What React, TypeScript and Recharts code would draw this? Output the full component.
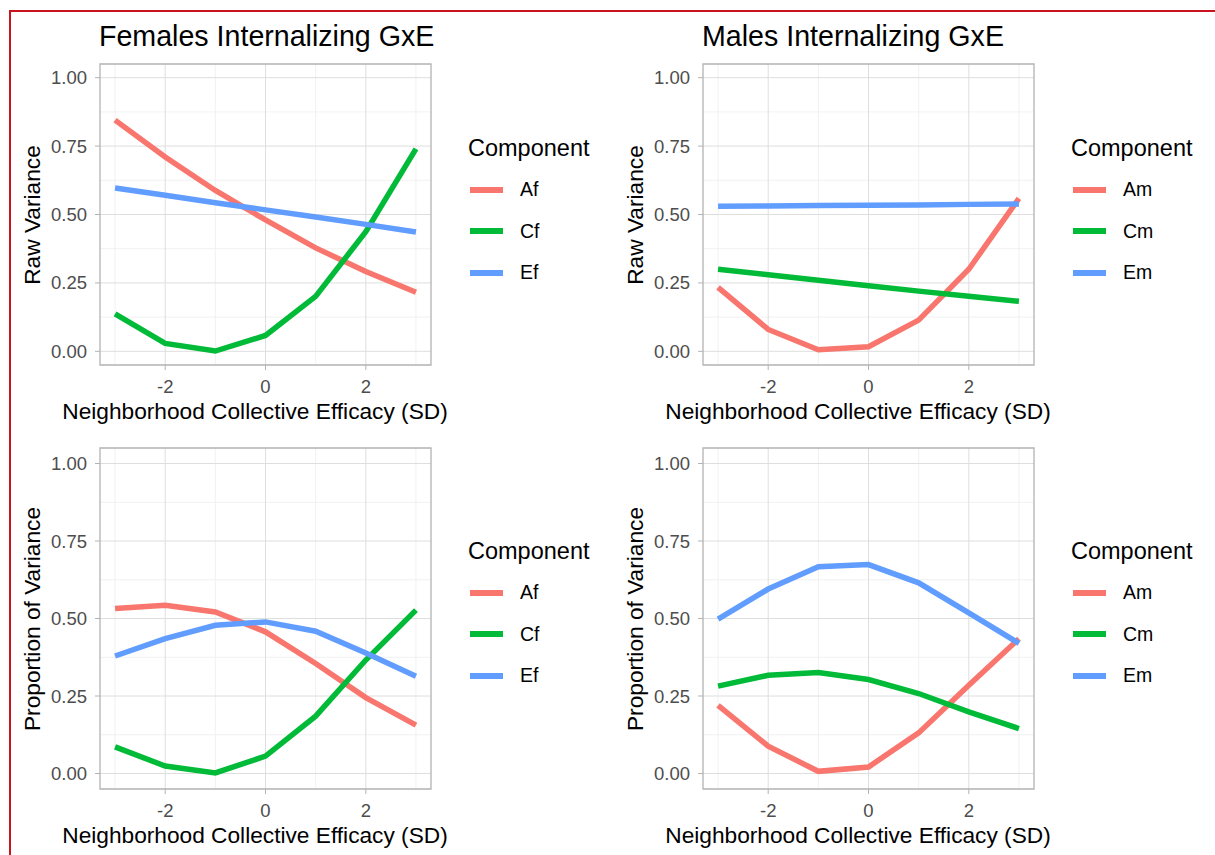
import { LineChart, Line, XAxis, YAxis, CartesianGrid, Legend, ReferenceArea } from 'recharts'

const xs = [-3, -2, -1, 0, 1, 2, 3]

// raw variance
const femRawA = [0.845, 0.71, 0.588, 0.48, 0.378, 0.292, 0.216]
const femRawC = [0.137, 0.029, 0.001, 0.058, 0.201, 0.437, 0.74]
const femRawE = [0.597, 0.57, 0.543, 0.517, 0.491, 0.464, 0.436]
const maleRawA = [0.234, 0.08, 0.006, 0.017, 0.114, 0.3, 0.559]
const maleRawC = [0.3, 0.28, 0.26, 0.24, 0.22, 0.201, 0.183]
const maleRawE = [0.53, 0.531, 0.533, 0.534, 0.535, 0.537, 0.538]

// proportion of variance
const femPropA = [0.532, 0.543, 0.521, 0.457, 0.355, 0.245, 0.156]
const femPropC = [0.086, 0.024, 0.002, 0.056, 0.185, 0.366, 0.527]
const femPropE = [0.379, 0.435, 0.478, 0.489, 0.459, 0.389, 0.314]
const malePropA = [0.22, 0.088, 0.007, 0.021, 0.131, 0.285, 0.435]
const malePropC = [0.282, 0.317, 0.326, 0.303, 0.258, 0.199, 0.145]
const malePropE = [0.498, 0.595, 0.667, 0.674, 0.615, 0.518, 0.42]

const femNames = ['Af', 'Cf', 'Ef']
const maleNames = ['Am', 'Cm', 'Em']

const majorX = [-2, 0, 2]
const minorX = [-3, -1, 1, 3]
const yTicks = [0, 0.25, 0.5, 0.75, 1]
const minorY = [0.125, 0.375, 0.625, 0.875]

const colors = ['#F8766D', '#00BA38', '#619CFF']
const font = '"Liberation Sans", Arial, sans-serif'

const buildRows = (a: number[], c: number[], e: number[]) =>
  xs.map((x, i) => ({ x, a: a[i], c: c[i], e: e[i] }))

const renderLegend = (props: any) => (
  <div style={{ fontFamily: font, color: '#000' }}>
    <div style={{ fontSize: 23.5, lineHeight: '28px', whiteSpace: 'nowrap' }}>Component</div>
    <div style={{ marginTop: 7 }}>
      {(props.payload || []).map((entry: any) => (
        <div key={entry.value} style={{ display: 'flex', alignItems: 'center', height: 41.5 }}>
          <span style={{ display: 'inline-block', width: 33, height: 6, marginLeft: 2, background: entry.color }} />
          <span style={{ marginLeft: 17, fontSize: 19.5 }}>{entry.value}</span>
        </div>
      ))}
    </div>
  </div>
)

function Panel({ left, top, height, title, yTitle, rows, names, legendTop }: any) {
  const width = 600
  const plotBottom = height - 65
  return (
    <div style={{ position: 'absolute', left, top, width, height }}>
      <LineChart width={width} height={height} data={rows} margin={{ top: 64, right: 169, bottom: 0, left: 0 }}>
        <CartesianGrid stroke="#EDEDED" strokeWidth={0.8} verticalValues={minorX} horizontalValues={minorY} />
        <CartesianGrid stroke="#DEDEDE" strokeWidth={1} verticalValues={majorX} horizontalValues={yTicks} />
        <ReferenceArea x1={-3.3} x2={3.3} y1={-0.05} y2={1.05} fill="none" fillOpacity={0} stroke="#B3B3B3" strokeWidth={1.3} />
        <XAxis
          dataKey="x"
          type="number"
          domain={[-3.3, 3.3]}
          ticks={majorX}
          interval={0}
          height={65}
          tickSize={5}
          tickMargin={10}
          axisLine={false}
          tickLine={{ stroke: '#B3B3B3' }}
          tick={{ fill: '#4D4D4D', fontSize: 18.5, fontFamily: font }}
          allowDataOverflow
        />
        <YAxis
          type="number"
          domain={[-0.05, 1.05]}
          ticks={yTicks}
          interval={0}
          width={100}
          tickSize={5}
          tickMargin={8}
          axisLine={false}
          tickLine={{ stroke: '#B3B3B3' }}
          tick={{ fill: '#4D4D4D', fontSize: 18.5, fontFamily: font }}
          tickFormatter={(v: number) => v.toFixed(2)}
          allowDataOverflow
        />
        <Legend
          layout="horizontal"
          align="center"
          verticalAlign="middle"
          content={renderLegend}
          wrapperStyle={{ left: 468, top: legendTop, width: 130, height: 160 }}
        />
        <Line type="linear" dataKey="a" name={names[0]} stroke={colors[0]} strokeWidth={5.5} dot={false} isAnimationActive={false} />
        <Line type="linear" dataKey="c" name={names[1]} stroke={colors[1]} strokeWidth={5.5} dot={false} isAnimationActive={false} />
        <Line type="linear" dataKey="e" name={names[2]} stroke={colors[2]} strokeWidth={5.5} dot={false} isAnimationActive={false} />
      </LineChart>
      {title && (
        <div style={{ position: 'absolute', left: 99, top: 22, fontSize: 28.6, lineHeight: '28px', fontFamily: font, color: '#000', whiteSpace: 'nowrap' }}>
          {title}
        </div>
      )}
      <div
        style={{
          position: 'absolute', left: 32, top: (64 + plotBottom) / 2, transform: 'translate(-50%, -50%) rotate(-90deg)',
          fontSize: 22.7, lineHeight: 1, fontFamily: font, color: '#000', whiteSpace: 'nowrap',
        }}
      >
        {yTitle}
      </div>
      <div
        style={{
          position: 'absolute', left: 255, top: plotBottom + 46, transform: 'translate(-50%, -50%)',
          fontSize: 22.7, lineHeight: 1, fontFamily: font, color: '#000', whiteSpace: 'nowrap',
        }}
      >
        Neighborhood Collective Efficacy (SD)
      </div>
    </div>
  )
}

export default function App() {
  return (
    <div style={{ position: 'absolute', left: 0, top: 0, width: 1215, height: 855, background: '#fff', overflow: 'hidden' }}>
      <div style={{ position: 'absolute', left: 9, top: 10, width: 1300, height: 900, border: '2px solid #C8141E' }} />
      <Panel left={0} top={0} height={430} title="Females Internalizing GxE" yTitle="Raw Variance"
        rows={buildRows(femRawA, femRawC, femRawE)} names={femNames} legendTop={134} />
      <Panel left={603} top={0} height={430} title="Males Internalizing GxE" yTitle="Raw Variance"
        rows={buildRows(maleRawA, maleRawC, maleRawE)} names={maleNames} legendTop={134} />
      <Panel left={0} top={384} height={470} yTitle="Proportion of Variance"
        rows={buildRows(femPropA, femPropC, femPropE)} names={femNames} legendTop={153} />
      <Panel left={603} top={384} height={470} yTitle="Proportion of Variance"
        rows={buildRows(malePropA, malePropC, malePropE)} names={maleNames} legendTop={153} />
    </div>
  )
}
